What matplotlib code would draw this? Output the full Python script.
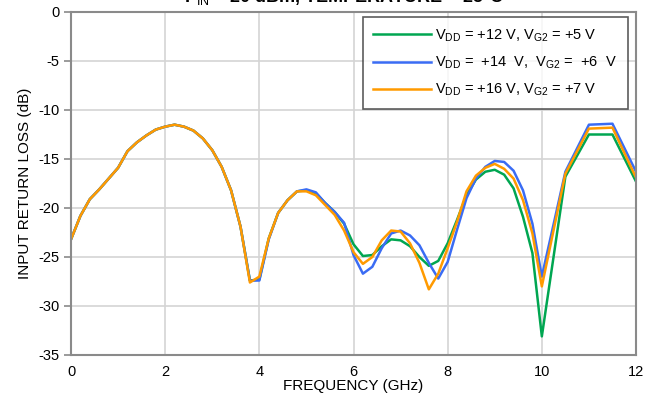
import matplotlib.pyplot as plt

plt.rcParams['font.family'] = ['Liberation Sans', 'DejaVu Sans']
plt.rcParams['mathtext.fontset'] = 'custom'
plt.rcParams['mathtext.rm'] = 'Liberation Sans'
plt.rcParams['mathtext.it'] = 'Liberation Sans'
plt.rcParams['axes.unicode_minus'] = False

# frequency points (GHz)
freq = [0.0, 0.2, 0.4, 0.6, 0.8, 1.0, 1.2, 1.4, 1.6, 1.8, 2.0, 2.2, 2.4, 2.6, 2.8, 3.0,
        3.2, 3.4, 3.6, 3.8, 4.0, 4.2, 4.4, 4.6, 4.8, 5.0, 5.2, 5.4, 5.6, 5.8, 6.0,
        6.2, 6.4, 6.6, 6.8, 7.0, 7.2, 7.4, 7.6, 7.8, 8.0,
        8.2, 8.4, 8.6, 8.8, 9.0, 9.2, 9.4, 9.6, 9.8, 10.0,
        10.5, 11.0, 11.5, 12.0]

# shared low band (0 - 3.6 GHz)
low = [-23.2, -20.8, -19.1, -18.1, -17.0, -15.9, -14.2, -13.3, -12.6, -12.0, -11.7, -11.5,
       -11.7, -12.1, -12.9, -14.1, -15.8, -18.2, -21.9]

rl_12v = low + [-27.4, -27.3, -23.1, -20.5, -19.2, -18.3, -18.2, -18.5, -19.5, -20.4, -21.6, -23.7,
                -24.9, -24.8, -23.9, -23.2, -23.3, -23.9, -25.0, -25.9, -25.4, -23.6,
                -21.2, -18.7, -17.1, -16.3, -16.1, -16.6, -18.0, -20.9, -24.6, -33.1,
                -16.8, -12.5, -12.5, -17.3]
rl_14v = low + [-27.4, -27.4, -23.2, -20.5, -19.2, -18.3, -18.1, -18.4, -19.5, -20.4, -21.5, -24.8,
                -26.7, -26.0, -24.1, -22.6, -22.3, -22.8, -23.8, -25.6, -27.2, -25.5,
                -22.2, -19.0, -17.0, -15.8, -15.2, -15.3, -16.2, -18.2, -21.6, -27.0,
                -16.3, -11.5, -11.4, -16.3]
rl_16v = low + [-27.6, -27.0, -23.1, -20.5, -19.2, -18.3, -18.3, -18.7, -19.7, -20.7, -22.3, -24.5,
                -25.7, -25.0, -23.3, -22.3, -22.4, -23.6, -25.6, -28.3, -26.7, -24.1,
                -21.4, -18.3, -16.7, -15.9, -15.5, -16.0, -17.0, -19.2, -22.6, -28.0,
                -16.5, -11.9, -11.8, -16.9]

labels = [r'V$_{\mathrm{DD}}$ = +12 V, V$_{\mathrm{G2}}$ = +5 V',
          r'V$_{\mathrm{DD}}$ =  +14  V,  V$_{\mathrm{G2}}$ =  +6  V',
          r'V$_{\mathrm{DD}}$ = +16 V, V$_{\mathrm{G2}}$ = +7 V']
colors = ['#00a651', '#3a6cf4', '#ff9a00']

fig = plt.figure(figsize=(6.53, 4.0), dpi=100)
ax = fig.add_axes([71/653, 1 - 355/400, (636 - 71)/653, (355 - 12)/400])

for y, lab, c in zip([rl_12v, rl_14v, rl_16v], labels, colors):
    ax.plot(freq, y, color=c, lw=1.8, label=lab)

ax.set_xlim(0, 12)
ax.set_ylim(-35, 0)
ax.set_xticks(range(0, 13, 2))
ax.set_yticks(range(-35, 1, 5))
ax.grid(True, color='#d4d4d4', lw=1.2)
ax.set_axisbelow(True)
for s in ax.spines.values():
    s.set_color('#8a8a8a')
    s.set_linewidth(1.5)
ax.tick_params(axis='both', colors='#8a8a8a', labelcolor='black', labelsize=10.5,
               length=5, width=1.2, direction='out')
ax.tick_params(axis='x', length=0, pad=7)

ax.set_xlabel('FREQUENCY (GHz)', fontsize=11, labelpad=0)
ax.set_ylabel('INPUT RETURN LOSS (dB)', fontsize=11, labelpad=4)

leg = ax.legend(loc='upper right', bbox_to_anchor=(0.985, 0.985), fontsize=10.5,
                frameon=True, fancybox=False, handlelength=4.0, handletextpad=0.3,
                borderpad=0.7, labelspacing=0.75, borderaxespad=0)
leg.get_frame().set_edgecolor('#333333')
leg.get_frame().set_linewidth(1.2)

# title line, mostly cut by the top edge in the reference
fig.text(344/653, 1 - 2/400, r'P$_{\mathrm{IN}}$ = 20 dBm, TEMPERATURE = 25°C',
         ha='center', va='baseline', fontsize=13, fontweight='bold')

fig.savefig('out.png', dpi=100)
